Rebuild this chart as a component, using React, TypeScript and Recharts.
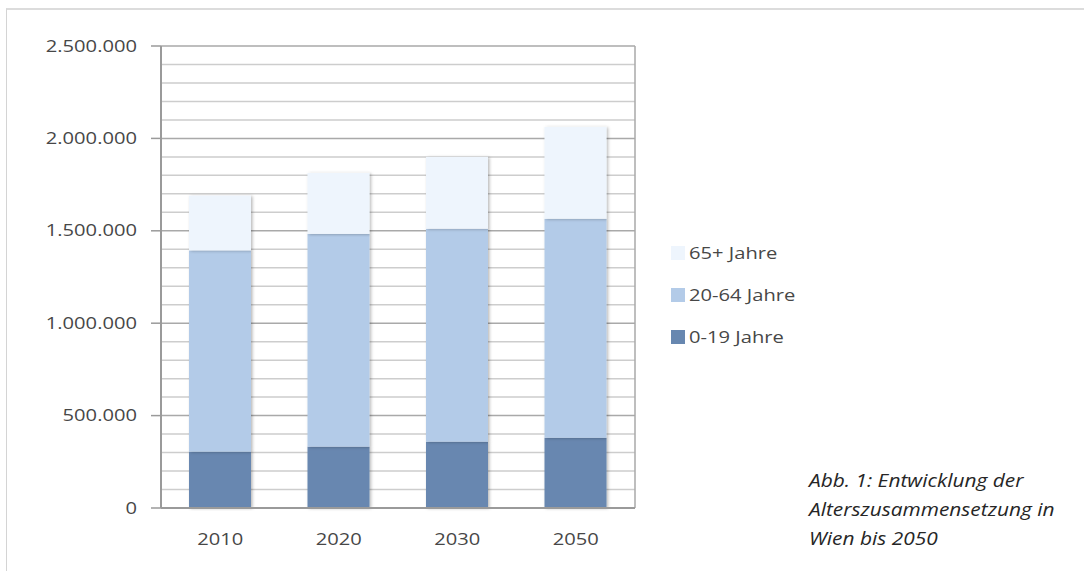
import React from "react";
import { BarChart, Bar, XAxis, YAxis, CartesianGrid, Legend } from "recharts";

// Einwohner Wiens nach Altersgruppen
const years = ["2010", "2020", "2030", "2050"];
const age0to19 = [305000, 332000, 359000, 380000];
const age20to64 = [1089000, 1151000, 1152000, 1185000];
const age65plus = [296000, 330000, 389000, 497000];

const seriesNames = ["0-19 Jahre", "20-64 Jahre", "65+ Jahre"];
const seriesColors = ["#6787b0", "#b3cbe8", "#eef5fd"];

const yTicks = [0, 500000, 1000000, 1500000, 2000000, 2500000];
const minorGrid = [
  100000, 200000, 300000, 400000, 600000, 700000, 800000, 900000,
  1100000, 1200000, 1300000, 1400000, 1600000, 1700000, 1800000, 1900000,
  2100000, 2200000, 2300000, 2400000,
];

const captionLines = [
  "Abb. 1: Entwicklung der",
  "Alterszusammensetzung in",
  "Wien bis 2050",
];

const data = years.map((year, i) => ({
  year,
  a: age0to19[i],
  b: age20to64[i],
  c: age65plus[i],
}));

const W = 1084;
const H = 571;
const FONT = "'Open Sans', sans-serif";
const SX = 1.26;
const TEXT = "#474747";

const fmt = (v: number) => String(v).replace(/\B(?=(\d{3})+(?!\d))/g, ".");

const YTick = (props: any) => {
  const { x, y, payload } = props;
  return (
    <g transform={`translate(${x},${y}) scale(${SX},1)`}>
      <text x={0} y={0} dy={5.5} textAnchor="end" fontFamily={FONT} fontSize={16} fill={TEXT}>
        {fmt(payload.value)}
      </text>
    </g>
  );
};

const XTick = (props: any) => {
  const { x, y, payload } = props;
  return (
    <g transform={`translate(${x},${y}) scale(${SX},1)`}>
      <text x={0} y={37} textAnchor="middle" fontFamily={FONT} fontSize={16} fill={TEXT}>
        {payload.value}
      </text>
    </g>
  );
};

const ShadowRect = (props: any) => {
  const { x, y, width, height, fill } = props;
  if (!height || height <= 0) return null;
  return <rect x={x} y={y} width={width} height={height} fill={fill} filter="url(#barShadow)" />;
};

const LegendBox = (props: any) => {
  const items = [...(props.payload || [])].reverse();
  return (
    <svg width={260} height={104} style={{ display: "block", overflow: "visible" }}>
      {items.map((it: any, i: number) => {
        const cy = 9 + i * 42;
        return (
          <g key={it.value}>
            <rect x={0} y={cy - 7} width={14} height={14} fill={it.color} />
            <g transform={`translate(18,${cy}) scale(${SX},1)`}>
              <text x={0} y={5.5} fontFamily={FONT} fontSize={16} fill={TEXT}>
                {it.value}
              </text>
            </g>
          </g>
        );
      })}
    </svg>
  );
};

export default function App() {
  return (
    <div style={{ position: "absolute", left: 0, top: 0, width: W, height: H, background: "#fff", overflow: "hidden" }}>
      <svg width={0} height={0} style={{ position: "absolute" }}>
        <defs>
          <filter id="barShadow" x="-20%" y="-5%" width="140%" height="110%">
            <feDropShadow dx={1.5} dy={0.5} stdDeviation={1.4} floodColor="#000" floodOpacity={0.28} />
          </filter>
        </defs>
      </svg>
      <div
        style={{
          position: "absolute",
          left: 6,
          top: 8,
          width: W,
          height: H,
          borderTop: "2px solid #dcdcdc",
          borderLeft: "1px solid #d4d4d4",
        }}
      />
      <div style={{ position: "absolute", left: 0, top: 0 }}>
        <BarChart width={W} height={H} data={data} margin={{ top: 46, right: 449, bottom: 0, left: 0 }}>
          <CartesianGrid
            vertical={false}
            horizontalValues={minorGrid}
            stroke="#cdcdcd"
            strokeWidth={1.5}
          />
          <CartesianGrid
            vertical
            horizontal
            horizontalValues={yTicks}
            verticalCoordinatesGenerator={({ offset }: any) => [offset.left + offset.width]}
            stroke="#a9a9a9"
            strokeWidth={1.5}
          />
          <XAxis
            dataKey="year"
            height={63}
            tickLine={false}
            tickSize={0}
            tickMargin={0}
            axisLine={{ stroke: "#9a9a9a", strokeWidth: 2 }}
            tick={<XTick />}
            interval={0}
          />
          <YAxis
            width={161}
            domain={[0, 2500000]}
            ticks={yTicks}
            interval={0}
            tickSize={10}
            tickMargin={14}
            axisLine={{ stroke: "#9a9a9a", strokeWidth: 2 }}
            tickLine={{ stroke: "#9a9a9a", strokeWidth: 1.5 }}
            tick={<YTick />}
          />
          <Legend
            layout="vertical"
            align="center"
            verticalAlign="middle"
            content={<LegendBox />}
            wrapperStyle={{ position: "absolute", left: 671, top: 244, width: 260, height: 104 }}
          />
          <Bar dataKey="a" name={seriesNames[0]} stackId="s" fill={seriesColors[0]} barSize={62} shape={<ShadowRect />} isAnimationActive={false} />
          <Bar dataKey="b" name={seriesNames[1]} stackId="s" fill={seriesColors[1]} barSize={62} shape={<ShadowRect />} isAnimationActive={false} />
          <Bar dataKey="c" name={seriesNames[2]} stackId="s" fill={seriesColors[2]} barSize={62} shape={<ShadowRect />} isAnimationActive={false} />
        </BarChart>
      </div>
      <svg width={284} height={100} style={{ position: "absolute", left: 800, top: 465 }}>
        {captionLines.map((line, i) => (
          <g key={line} transform={`translate(9,${21.7 + i * 29.2}) scale(1.16,1)`}>
            <text x={0} y={0} fontFamily={FONT} fontStyle="italic" fontSize={18} fill="#262626">
              {line}
            </text>
          </g>
        ))}
      </svg>
    </div>
  );
}
